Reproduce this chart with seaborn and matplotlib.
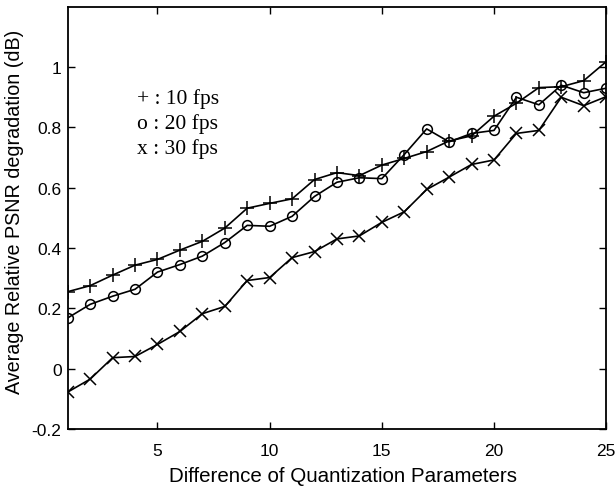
import numpy as np
import pandas as pd
import matplotlib
matplotlib.use('Agg')
import matplotlib.pyplot as plt
import seaborn as sns

# data
qp_diff = np.arange(1, 26)
fps10 = [0.255, 0.275, 0.31, 0.343, 0.362, 0.393, 0.422, 0.466, 0.532, 0.548, 0.563, 0.627,
         0.65, 0.64, 0.675, 0.697, 0.72, 0.755, 0.772, 0.837, 0.88, 0.932, 0.935, 0.955, 1.018]
fps20 = [0.168, 0.213, 0.24, 0.263, 0.32, 0.345, 0.373, 0.418, 0.475, 0.472, 0.505, 0.571,
         0.618, 0.633, 0.63, 0.71, 0.795, 0.752, 0.78, 0.79, 0.9, 0.875, 0.94, 0.915, 0.93]
fps30 = [-0.078, -0.035, 0.036, 0.04, 0.08, 0.123, 0.182, 0.206, 0.292, 0.302, 0.368, 0.388,
         0.43, 0.44, 0.485, 0.52, 0.594, 0.635, 0.677, 0.692, 0.78, 0.79, 0.9, 0.872, 0.902]
legend_lines = ['+ : 10 fps', 'o : 20 fps', 'x : 30 fps']
yticks = [-0.2, 0, 0.2, 0.4, 0.6, 0.8, 1]
ytick_labels = ['-0.2', '0', '0.2', '0.4', '0.6', '0.8', '1']
xticks = [5, 10, 15, 20, 25]

sns.set_theme(style='ticks')
plt.rcParams['font.family'] = ['Liberation Sans', 'DejaVu Sans']
plt.rcParams['text.color'] = 'black'
plt.rcParams['axes.labelcolor'] = 'black'

fig = plt.figure(figsize=(6.16, 4.89), dpi=100)
ax = fig.add_axes([0.110, 0.121, 0.874, 0.863])

common = dict(ax=ax, color='black', lw=1.2, markeredgecolor='black', markeredgewidth=1.1)
sns.lineplot(x=qp_diff, y=fps10, marker='+', markersize=10, **common)
sns.lineplot(x=qp_diff, y=fps20, marker='o', markersize=7, markerfacecolor='none', **common)
sns.lineplot(x=qp_diff, y=fps30, marker='x', markersize=9, **common)

ax.set_xlim(1, 25)
ax.set_ylim(-0.2, 1.2)
ax.set_xticks(xticks)
ax.set_yticks(yticks)
ax.set_yticklabels(ytick_labels)
ax.tick_params(axis='both', which='both', direction='in', top=True, right=True,
               length=5, width=1, labelsize=12.5, colors='black')
ax.tick_params(axis='x', pad=10)
ax.tick_params(axis='y', pad=4.5)
for s in ax.spines.values():
    s.set_color('black')
    s.set_linewidth(1.3)

ax.set_xlabel('Difference of Quantization Parameters', fontsize=14.8)
ax.set_ylabel('Average Relative PSNR degradation (dB)', fontsize=14.2)
ax.xaxis.set_label_coords(0.511, -0.088)
ax.yaxis.set_label_coords(-0.082, 0.517)

serif = ['Liberation Serif', 'DejaVu Serif']
for i, txt in enumerate(legend_lines):
    ax.text(4.1, 0.899 - i * 0.083, txt, fontsize=15.5, family=serif, va='center')

fig.savefig('out.png', dpi=100)
